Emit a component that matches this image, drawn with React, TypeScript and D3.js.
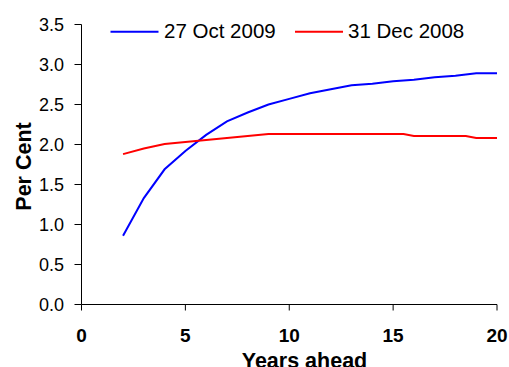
import React from "react";
import * as d3 from "d3";

const yearsBlue = [2, 3, 4, 5, 6, 7, 8, 9, 10, 11, 12, 13, 14, 15, 16, 17, 18, 19, 20];
const valuesBlue = [0.86, 1.33, 1.69, 1.92, 2.12, 2.29, 2.4, 2.5, 2.57, 2.64, 2.69, 2.74, 2.76, 2.79, 2.81, 2.84, 2.86, 2.89, 2.89];
const yearsRed = [2, 3, 4, 5, 6, 7, 8, 9, 10, 11, 12, 13, 14, 15, 15.5, 16, 17, 18, 18.5, 19, 20];
const valuesRed = [1.88, 1.95, 2.005, 2.03, 2.055, 2.08, 2.105, 2.13, 2.13, 2.13, 2.13, 2.13, 2.13, 2.13, 2.13, 2.105, 2.105, 2.105, 2.105, 2.08, 2.08];
const seriesNames = ["27 Oct 2009", "31 Dec 2008"];
const seriesColors = ["#0000FF", "#FF0000"];
const xTicks = [0, 5, 10, 15, 20];
const yTicks = [0, 0.5, 1, 1.5, 2, 2.5, 3, 3.5];

const W = 509;
const H = 367;
const FONT = "'Liberation Sans', Arial, sans-serif";

export default function App() {
  const x = d3.scaleLinear().domain([0, 20]).range([81.5, 497]);
  const y = d3.scaleLinear().domain([0, 3.5]).range([304.5, 24.5]);
  const line = d3
    .line<[number, number]>()
    .x((d) => x(d[0]))
    .y((d) => y(d[1]));
  const blue: [number, number][] = yearsBlue.map((t, i) => [t, valuesBlue[i]]);
  const red: [number, number][] = yearsRed.map((t, i) => [t, valuesRed[i]]);

  const legend = [
    { x1: 110.5, x2: 158.5, tx: 164 },
    { x1: 295, x2: 343, tx: 348 },
  ];

  return (
    <svg
      width={W}
      height={H}
      style={{ position: "absolute", left: 0, top: 0, background: "#fff" }}
      fontFamily={FONT}
    >
      {/* y axis */}
      <line x1={x(0)} x2={x(0)} y1={y(3.5)} y2={y(0)} stroke="#000" strokeWidth={1} />
      {yTicks.map((t) => (
        <g key={"y" + t}>
          <line x1={x(0) - 7} x2={x(0)} y1={y(t)} y2={y(t)} stroke="#000" strokeWidth={1} />
          <text x={64} y={y(t) + 6.5} fontSize={18} textAnchor="end" fill="#000">
            {t.toFixed(1)}
          </text>
        </g>
      ))}
      {/* x axis */}
      <line x1={x(0)} x2={x(20)} y1={y(0)} y2={y(0)} stroke="#000" strokeWidth={1} />
      {xTicks.map((t) => (
        <g key={"x" + t}>
          <line x1={x(t)} x2={x(t)} y1={y(0)} y2={y(0) + 6} stroke="#000" strokeWidth={1} />
          <text x={x(t)} y={341.5} fontSize={19} fontWeight="bold" textAnchor="middle" fill="#000">
            {t}
          </text>
        </g>
      ))}
      {/* axis titles */}
      <text x={304.5} y={368} fontSize={21.5} fontWeight="bold" textAnchor="middle" fill="#000">
        Years ahead
      </text>
      <text
        transform={`translate(30.5,166.5) rotate(-90)`}
        fontSize={21.5}
        fontWeight="bold"
        textAnchor="middle"
        fill="#000"
      >
        Per Cent
      </text>
      {/* lines */}
      <path d={line(blue) || ""} fill="none" stroke={seriesColors[0]} strokeWidth={2} />
      <path d={line(red) || ""} fill="none" stroke={seriesColors[1]} strokeWidth={2} />
      {/* legend */}
      {legend.map((l, i) => (
        <g key={"l" + i}>
          <line x1={l.x1} x2={l.x2} y1={31.7} y2={31.7} stroke={seriesColors[i]} strokeWidth={2} />
          <text x={l.tx} y={38} fontSize={20.5} fill="#000">
            {seriesNames[i]}
          </text>
        </g>
      ))}
    </svg>
  );
}
